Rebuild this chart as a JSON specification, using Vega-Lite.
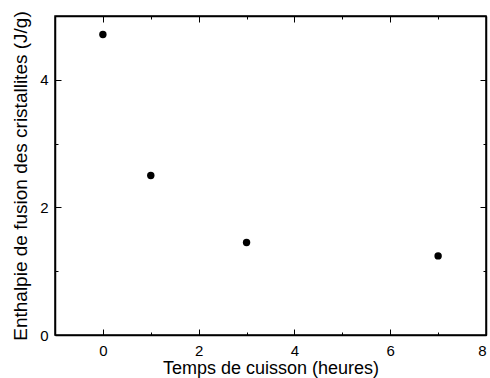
{
  "$schema": "https://vega.github.io/schema/vega-lite/v6.json",
  "width": 431,
  "height": 319,
  "autosize": {"type": "none"},
  "padding": {"left": 55, "top": 16, "right": 4, "bottom": 43},
  "background": "white",
  "config": {
    "view": {"stroke": "black", "strokeWidth": 1.5},
    "font": "Liberation Sans",
    "axis": {
      "grid": false,
      "domainColor": "black",
      "domainWidth": 1.5,
      "tickColor": "black",
      "tickWidth": 1,
      "labelFont": "Liberation Sans",
      "labelColor": "black",
      "titleFont": "Liberation Sans",
      "titleFontWeight": "normal",
      "titleColor": "black"
    }
  },
  "data": {
    "values": [
      {"t": 0, "h": 4.71},
      {"t": 1, "h": 2.50},
      {"t": 3, "h": 1.45},
      {"t": 7, "h": 1.24}
    ]
  },
  "layer": [
    {
      "mark": {"type": "point", "filled": true, "color": "black", "opacity": 1, "size": 55},
      "encoding": {
        "x": {
          "field": "t", "type": "quantitative",
          "scale": {"domain": [-1, 8], "nice": false, "zero": false},
          "axis": {
            "orient": "bottom",
            "title": "Temps de cuisson (heures)",
            "titleFontSize": 18,
            "labelFontSize": 15,
            "values": [0, 1, 2, 3, 4, 5, 6, 7, 8],
            "labelExpr": "datum.value % 2 === 0 ? datum.label : ''",
            "tickSize": {"condition": {"test": "datum.value % 2 !== 0", "value": -3}, "value": -6},
            "labelPadding": 14,
            "titlePadding": 1
          }
        },
        "y": {
          "field": "h", "type": "quantitative",
          "scale": {"domain": [0, 5], "nice": false},
          "axis": {
            "orient": "left",
            "title": "Enthalpie de fusion des cristallites (J/g)",
            "titleFontSize": 19,
            "labelFontSize": 15,
            "values": [0, 1, 2, 3, 4, 5],
            "labelExpr": "datum.value % 2 === 0 ? datum.label : ''",
            "tickSize": {"condition": {"test": "datum.value % 2 !== 0", "value": -3}, "value": -6},
            "labelPadding": 13,
            "titlePadding": 9
          }
        }
      }
    },
    {
      "mark": {"type": "point", "filled": true, "color": "black", "opacity": 0, "size": 55},
      "encoding": {
        "x": {
          "field": "t", "type": "quantitative",
          "axis": {
            "orient": "top",
            "title": null,
            "labels": false,
            "values": [0, 1, 2, 3, 4, 5, 6, 7, 8],
            "tickSize": {"condition": {"test": "datum.value % 2 !== 0", "value": -3}, "value": -6}
          }
        },
        "y": {
          "field": "h", "type": "quantitative",
          "axis": {
            "orient": "right",
            "title": null,
            "labels": false,
            "values": [0, 1, 2, 3, 4, 5],
            "tickSize": {"condition": {"test": "datum.value % 2 !== 0", "value": -3}, "value": -6}
          }
        }
      }
    }
  ],
  "resolve": {"axis": {"x": "independent", "y": "independent"}}
}
